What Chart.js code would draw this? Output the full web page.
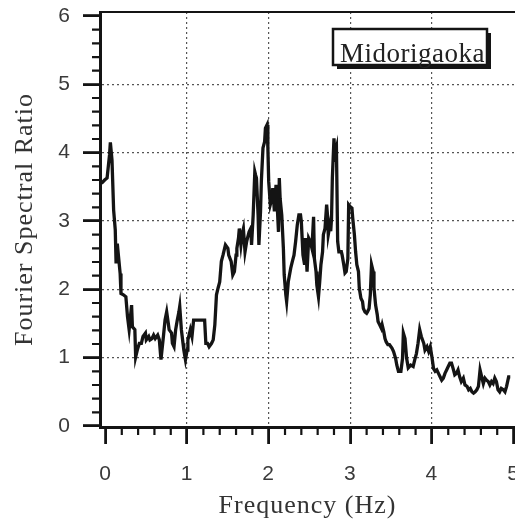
<!DOCTYPE html>
<html>
<head>
<meta charset="utf-8">
<script src="https://cdn.jsdelivr.net/npm/chart.js@4.4.1/dist/chart.umd.min.js"></script>
<style>
  html, body { margin: 0; padding: 0; background: #fff; }
  #chart { display: block; }
</style>
</head>
<body>
<canvas id="chart" width="515" height="520"></canvas>
<script>
// spectral ratio, frequency in Hz
const freqHz = [
  -0.05, -0.01, 0.02, 0.05, 0.06, 0.08, 0.10, 0.12, 0.13, 0.145,
  0.16, 0.18, 0.19, 0.22, 0.25, 0.27, 0.29, 0.32, 0.33, 0.36,
  0.37, 0.39, 0.415, 0.44, 0.46, 0.49, 0.50, 0.53, 0.545, 0.57,
  0.59, 0.61, 0.64, 0.66, 0.68, 0.71, 0.73, 0.75, 0.77, 0.78,
  0.81, 0.82, 0.84, 0.86, 0.88, 0.90, 0.91, 0.93, 0.95, 0.96,
  0.98, 1.00, 1.01, 1.03, 1.04, 1.06, 1.08, 1.12, 1.16, 1.20,
  1.215, 1.23, 1.25, 1.27, 1.30, 1.32,
  1.34, 1.36, 1.38, 1.40, 1.42, 1.44, 1.47, 1.50, 1.51, 1.54,
  1.56, 1.58, 1.60, 1.61, 1.63, 1.64, 1.66, 1.68, 1.69, 1.71,
  1.73, 1.74, 1.76, 1.78, 1.79, 1.81, 1.83, 1.84, 1.85, 1.87,
  1.88, 1.90, 1.91, 1.93, 1.95, 1.96, 1.98, 1.99, 2.00, 2.02,
  2.04, 2.05, 2.07, 2.09, 2.10, 2.12, 2.13, 2.14, 2.16, 2.18,
  2.19, 2.21, 2.22, 2.24, 2.27, 2.29, 2.31, 2.33, 2.35, 2.37,
  2.39, 2.40, 2.42, 2.44, 2.45, 2.47, 2.49, 2.51, 2.53, 2.55,
  2.56, 2.58, 2.59, 2.61, 2.625, 2.64, 2.66, 2.67, 2.69, 2.71,
  2.72, 2.73, 2.75, 2.76, 2.77, 2.78, 2.80, 2.81, 2.83, 2.845,
  2.86, 2.89, 2.90, 2.92, 2.935, 2.95, 2.97, 2.98, 3.00,
  3.02, 3.03, 3.05, 3.065, 3.08, 3.10, 3.11, 3.13, 3.15, 3.16,
  3.18, 3.20, 3.21, 3.23, 3.245, 3.26, 3.28, 3.29, 3.31, 3.33,
  3.34, 3.36, 3.38, 3.39, 3.41, 3.425, 3.44, 3.46, 3.48, 3.51,
  3.53, 3.555, 3.57, 3.59, 3.62, 3.64, 3.65, 3.67, 3.69, 3.71,
  3.74,
  3.77, 3.79, 3.81, 3.83, 3.85, 3.87, 3.90, 3.915, 3.94, 3.96,
  3.98, 4.00, 4.02, 4.04, 4.06, 4.08, 4.10, 4.12, 4.14, 4.16,
  4.18, 4.20, 4.22, 4.24, 4.26, 4.28, 4.30, 4.32, 4.34, 4.36,
  4.385, 4.405, 4.43, 4.45, 4.47, 4.49, 4.51, 4.53, 4.55, 4.57,
  4.59, 4.61, 4.63, 4.65, 4.67, 4.69, 4.71, 4.73, 4.75, 4.77,
  4.79, 4.81, 4.83, 4.85, 4.875, 4.895, 4.915, 4.94, 4.96
];
const ratio = [
  3.55, 3.60, 3.63, 3.97, 4.15, 3.89, 3.16, 2.87, 2.38, 2.67,
  2.48, 2.23, 1.94, 1.92, 1.89, 1.60, 1.41, 1.77, 1.45, 1.41,
  1.01, 1.11, 1.21, 1.21, 1.31, 1.36, 1.26, 1.31, 1.26, 1.28,
  1.33, 1.28, 1.33, 1.26, 0.97, 1.31, 1.55, 1.67, 1.50, 1.41,
  1.36, 1.21, 1.16, 1.41, 1.55, 1.67, 1.75, 1.41, 1.21, 1.11,
  0.97, 1.11, 1.26, 1.36, 1.41, 1.31, 1.55, 1.55, 1.55, 1.55,
  1.55, 1.21, 1.21, 1.16, 1.21, 1.26,
  1.48, 1.92, 2.02, 2.11, 2.41, 2.50, 2.65, 2.60, 2.50, 2.41,
  2.21, 2.26, 2.50, 2.60, 2.75, 2.89, 2.65, 2.84, 2.89, 2.55,
  2.70, 2.75, 2.84, 2.89, 2.65, 3.09, 3.72, 3.67, 3.63, 3.09,
  2.65, 3.14, 3.58, 4.07, 4.16, 4.36, 4.41, 4.07, 3.58, 3.24,
  3.33, 3.48, 3.14, 3.53, 3.33, 2.84, 3.63, 3.33, 3.09, 2.60,
  2.21, 1.92, 1.82, 2.11, 2.31, 2.41, 2.50, 2.70, 2.94, 3.09,
  3.09, 2.99, 2.50, 2.36, 2.75, 2.26, 2.75, 2.70, 2.60, 3.06,
  2.45, 2.26, 2.06, 1.89, 2.11, 2.36, 2.55, 2.80, 2.89, 3.24,
  3.09, 2.80, 2.94, 2.85, 3.04, 3.63, 4.21, 3.97, 4.07, 2.70,
  2.55, 2.55, 2.50, 2.36, 2.24, 2.26, 2.45, 3.24, 3.21,
  3.19, 3.04, 2.80, 2.55, 2.36, 2.26, 2.02, 1.87, 1.82, 1.72,
  1.67, 1.65, 1.67, 1.72, 1.92, 2.36, 2.26, 2.02, 1.77, 1.63,
  1.53, 1.48, 1.43, 1.48, 1.38, 1.28, 1.23, 1.19, 1.19, 1.14,
  1.09, 0.99, 0.89, 0.80, 0.80, 0.99, 1.36, 1.28, 0.99, 0.85,
  0.89,
  0.87, 0.97, 1.06, 1.21, 1.41, 1.31, 1.21, 1.11, 1.16, 1.09,
  1.16, 1.01, 0.84, 0.80, 0.82, 0.77, 0.72, 0.67, 0.70, 0.77,
  0.82, 0.87, 0.92, 0.92, 0.84, 0.75, 0.77, 0.82, 0.72, 0.65,
  0.70, 0.60, 0.58, 0.53, 0.55, 0.50, 0.48, 0.50, 0.53, 0.58,
  0.82, 0.72, 0.62, 0.70, 0.67, 0.65, 0.60, 0.65, 0.62, 0.70,
  0.65, 0.53, 0.50, 0.55, 0.53, 0.50, 0.58, 0.72, 0.72
];
const xTickValues = [0, 1, 2, 3, 4, 5];
const yTickValues = [0, 1, 2, 3, 4, 5, 6];
const minorStep = 0.2;
const siteName = 'Midorigaoka';
const xTitle = 'Frequency (Hz)';
const yTitle = 'Fourier Spectral Ratio';

if (freqHz.length !== ratio.length) console.warn('length mismatch', freqHz.length, ratio.length);

const INK = '#141414';
const GRID = '#555';

// hide grid lines that sit on the frame
const gridColor = (edgeValues) => (ctx) =>
  ctx.tick && edgeValues.includes(ctx.tick.value) ? 'rgba(0,0,0,0)' : GRID;

// top frame line + short minor ticks on both axes
const frameTicks = {
  id: 'frameTicks',
  afterDraw(chart) {
    const { ctx, chartArea, scales } = chart;
    ctx.save();
    ctx.strokeStyle = INK;
    ctx.lineWidth = 2;
    ctx.beginPath();
    ctx.moveTo(chartArea.left, chartArea.top);
    ctx.lineTo(chartArea.right, chartArea.top);
    ctx.stroke();

    ctx.lineWidth = 2.2;
    ctx.beginPath();
    for (let i = 0; i <= 25; i++) {
      if (i % 5 === 0) continue;
      const px = scales.x.getPixelForValue(i * minorStep);
      ctx.moveTo(px, chartArea.bottom);
      ctx.lineTo(px, chartArea.bottom + 8);
    }
    for (let i = 0; i <= 30; i++) {
      if (i % 5 === 0) continue;
      const py = scales.y.getPixelForValue(i * minorStep);
      ctx.moveTo(chartArea.left - 8, py);
      ctx.lineTo(chartArea.left, py);
    }
    ctx.stroke();
    ctx.restore();
  }
};

// station name box with drop shadow
const siteLabel = {
  id: 'siteLabel',
  afterDatasetsDraw(chart) {
    const { ctx, chartArea } = chart;
    const w = 154, h = 36;
    const x = chartArea.right - 182, y = chartArea.top + 17;
    ctx.save();
    ctx.fillStyle = INK;
    ctx.fillRect(x + 4, y + 4, w, h);
    ctx.fillStyle = '#fff';
    ctx.fillRect(x, y, w, h);
    ctx.lineWidth = 2.5;
    ctx.strokeStyle = INK;
    ctx.strokeRect(x, y, w, h);
    ctx.letterSpacing = '0.5px';
    ctx.font = '27px "Liberation Serif"';
    ctx.fillStyle = '#222';
    ctx.textBaseline = 'alphabetic';
    ctx.textAlign = 'left';
    ctx.fillText(siteName, x + 7, y + 32.5);
    ctx.restore();
  }
};

// the serif titles in the original are loosely spaced
const spacing = {
  id: 'spacing',
  beforeDraw(chart) { chart.ctx.letterSpacing = '1px'; },
  afterDraw(chart) { chart.ctx.letterSpacing = '0px'; }
};

const tickFont = { family: 'Liberation Sans', size: 21 };
const titleFont = { family: 'Liberation Serif', size: 26, lineHeight: 1 };

new Chart(document.getElementById('chart'), {
  type: 'scatter',
  data: {
    datasets: [{
      data: freqHz.map((f, i) => ({ x: f, y: ratio[i] })),
      showLine: true,
      borderColor: INK,
      backgroundColor: INK,
      borderWidth: 3.3,
      borderJoinStyle: 'miter',
      pointRadius: 0,
      tension: 0,
      fill: false
    }]
  },
  options: {
    responsive: false,
    devicePixelRatio: 1,
    animation: false,
    layout: { padding: { top: 12, left: 0, right: 0, bottom: 0 } },
    plugins: {
      legend: { display: false },
      tooltip: { enabled: false }
    },
    scales: {
      x: {
        type: 'linear',
        min: -0.067,
        max: 5.018,
        afterBuildTicks: (s) => { s.ticks = xTickValues.map(v => ({ value: v })); },
        afterFit: (s) => { s.paddingLeft = 0; s.paddingRight = 0; s.height = 93; },
        ticks: { padding: 18, color: '#3a3a3a', font: tickFont, maxRotation: 0, autoSkip: false },
        grid: {
          color: gridColor([0, 5]),
          lineWidth: 1.2,
          tickLength: 17,
          tickColor: INK,
          tickWidth: 2.8,
          tickBorderDash: []
        },
        border: { color: INK, width: 3, dash: [2, 3] },
        title: { display: true, text: xTitle, color: '#333', font: titleFont, padding: { top: 7, bottom: 1 } }
      },
      y: {
        min: -0.015,
        max: 6.059,
        afterBuildTicks: (s) => { s.ticks = yTickValues.map(v => ({ value: v })); },
        afterFit: (s) => { s.paddingTop = 0; s.paddingBottom = 0; s.width = 100; },
        ticks: { padding: 12, color: '#3a3a3a', font: tickFont },
        grid: {
          color: gridColor([0, 6]),
          lineWidth: 1.2,
          tickLength: 17,
          tickColor: INK,
          tickWidth: 2.8,
          tickBorderDash: []
        },
        border: { color: INK, width: 3, dash: [2, 3] },
        title: { display: true, text: yTitle, color: '#333', font: titleFont, padding: { top: 12, bottom: 22 } }
      }
    }
  },
  plugins: [spacing, frameTicks, siteLabel]
});
</script>
</body>
</html>
